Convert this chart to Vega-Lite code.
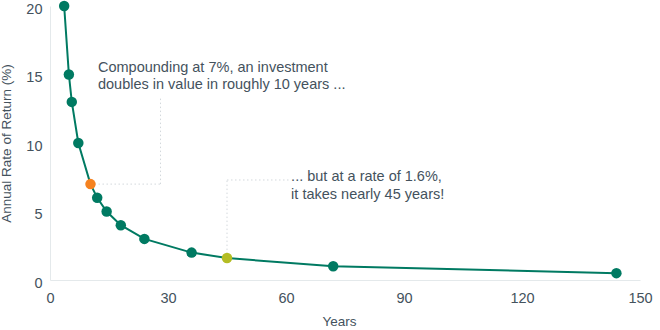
{
  "$schema": "https://vega.github.io/schema/vega-lite/v6.json",
  "autosize": "none",
  "width": 590,
  "height": 274,
  "padding": {"left": 50, "top": 6, "right": 20, "bottom": 50},
  "background": "white",
  "config": {
    "view": {"stroke": null},
    "font": "Liberation Sans",
    "axis": {
      "domainColor": "#e4e9eb",
      "domainWidth": 1,
      "ticks": false,
      "grid": false,
      "labelFlush": false,
      "labelColor": "#44525d",
      "labelFontSize": 14.5,
      "labelFont": "Liberation Sans",
      "titleColor": "#44525d",
      "titleFontSize": 13.5,
      "titleFont": "Liberation Sans",
      "titleFontWeight": "normal"
    }
  },
  "datasets": {
    "pts": [
      {"years": 3.6, "rate": 20, "group": "other"},
      {"years": 4.8, "rate": 15, "group": "other"},
      {"years": 5.54, "rate": 13, "group": "other"},
      {"years": 7.2, "rate": 10, "group": "other"},
      {"years": 10.29, "rate": 7, "group": "seven"},
      {"years": 12, "rate": 6, "group": "other"},
      {"years": 14.4, "rate": 5, "group": "other"},
      {"years": 18, "rate": 4, "group": "other"},
      {"years": 24, "rate": 3, "group": "other"},
      {"years": 36, "rate": 2, "group": "other"},
      {"years": 45, "rate": 1.6, "group": "onesix"},
      {"years": 72, "rate": 1, "group": "other"},
      {"years": 144, "rate": 0.5, "group": "other"}
    ],
    "guides": [
      {"x": 10.29, "y": 7, "x2": 28.1, "y2": 7},
      {"x": 28.1, "y": 7, "x2": 28.1, "y2": 13.4},
      {"x": 45, "y": 1.6, "x2": 45, "y2": 7.3},
      {"x": 45, "y": 7.3, "x2": 60.8, "y2": 7.3}
    ],
    "notes": [
      {"x": 12.2, "y": 15.47, "label": "Compounding at 7%, an investment"},
      {"x": 12.2, "y": 14.23, "label": "doubles in value in roughly 10 years ..."},
      {"x": 61.3, "y": 7.54, "label": "... but at a rate of 1.6%,"},
      {"x": 61.3, "y": 6.2, "label": "it takes nearly 45 years!"}
    ]
  },
  "layer": [
    {
      "data": {"name": "guides"},
      "mark": {"type": "rule", "color": "#d3d8dc", "strokeWidth": 1, "strokeDash": [1.5, 2.5]},
      "encoding": {
        "x": {"field": "x", "type": "quantitative", "scale": {"domain": [0, 150], "nice": false},
          "axis": {"values": [0, 30, 60, 90, 120, 150], "title": "Years", "labelPadding": 11, "titlePadding": 10, "titleX": 289}},
        "y": {"field": "y", "type": "quantitative", "scale": {"domain": [0, 20], "nice": false},
          "axis": {"values": [0, 5, 10, 15, 20], "title": "Annual Rate of Return (%)", "labelPadding": 8, "labelOffset": 3, "titlePadding": 12}},
        "x2": {"field": "x2"},
        "y2": {"field": "y2"}
      }
    },
    {
      "data": {"name": "pts"},
      "mark": {"type": "line", "color": "#007a62", "strokeWidth": 2},
      "encoding": {
        "x": {"field": "years", "type": "quantitative"},
        "y": {"field": "rate", "type": "quantitative"}
      }
    },
    {
      "data": {"name": "pts"},
      "mark": {"type": "point", "filled": true, "opacity": 1, "size": 110},
      "encoding": {
        "x": {"field": "years", "type": "quantitative"},
        "y": {"field": "rate", "type": "quantitative"},
        "color": {"field": "group", "type": "nominal", "legend": null,
          "scale": {"domain": ["other", "seven", "onesix"], "range": ["#007a62", "#f5821f", "#b4bd24"]}}
      }
    },
    {
      "data": {"name": "notes"},
      "mark": {"type": "text", "align": "left", "baseline": "middle", "fontSize": 14.5, "color": "#44525d", "font": "Liberation Sans"},
      "encoding": {
        "x": {"field": "x", "type": "quantitative"},
        "y": {"field": "y", "type": "quantitative"},
        "text": {"field": "label"}
      }
    }
  ]
}
